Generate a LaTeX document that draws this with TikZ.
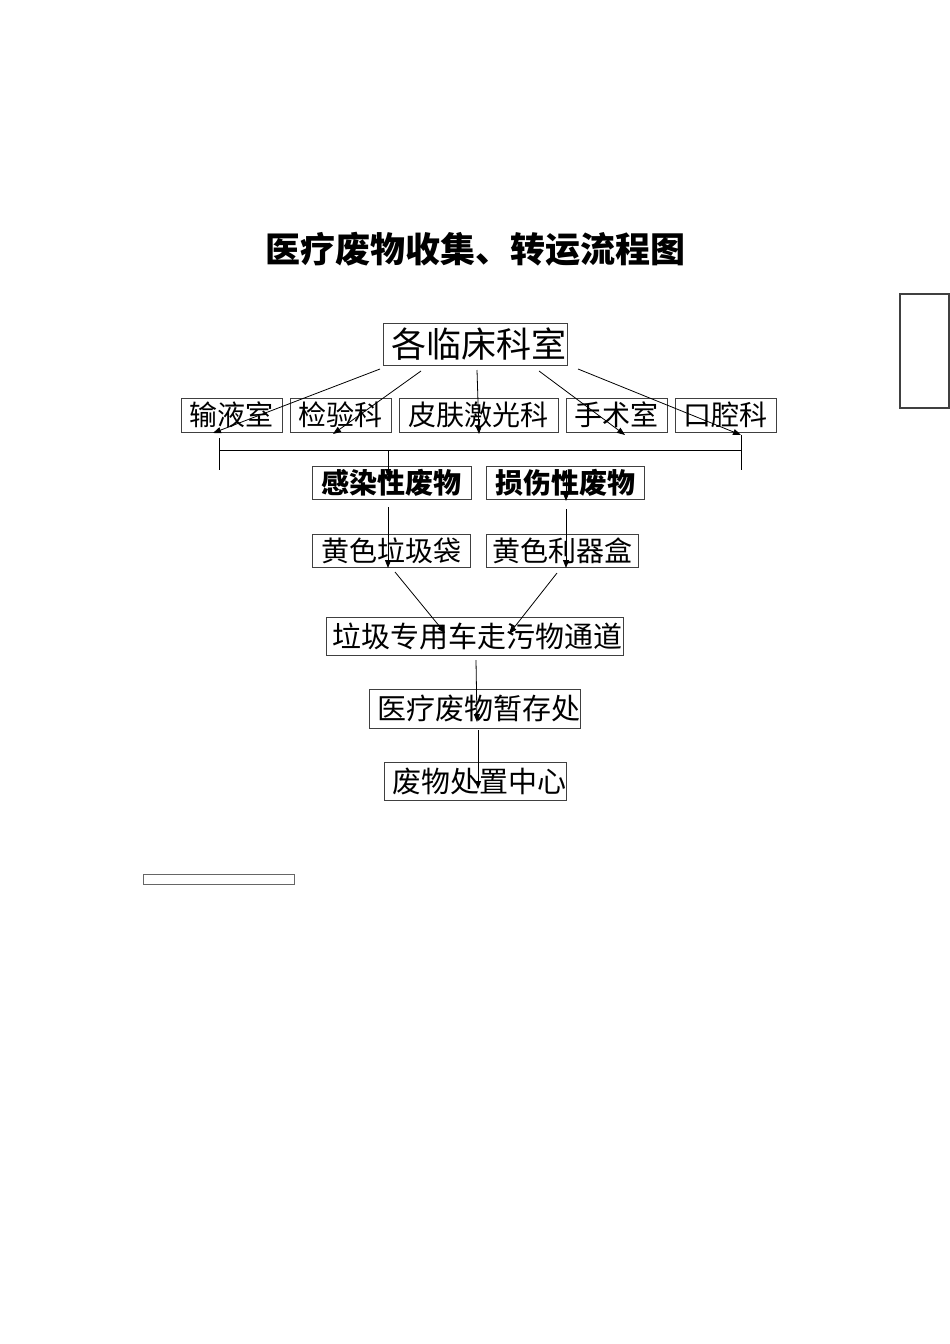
\documentclass[tikz,border=0pt]{standalone}
\usepackage{fontspec}
\newfontfamily\cjk{Noto Sans CJK SC}
\usetikzlibrary{arrows.meta}
\tikzset{
  box/.style={draw=black!75, line width=0.9pt, inner sep=0pt, align=center, font=\cjk\fontsize{28}{30}\selectfont},
  boldbox/.style={box, font=\cjk\bfseries\fontsize{28}{30}\selectfont},
  bigbox/.style={box, font=\cjk\fontsize{35}{38}\selectfont},
  midbox/.style={box, font=\cjk\fontsize{29}{31}\selectfont},
  arr/.style={black, line width=0.8pt, -{Triangle[length=8pt,width=6pt]}},
  ln/.style={black, line width=0.8pt},
}
\begin{document}
\begin{tikzpicture}[x=1pt,y=-1pt]
\useasboundingbox[fill=white] (0,0) rectangle (950,1344);
% title
\node[font=\cjk\bfseries\fontsize{35}{38}\selectfont] (title) at (475,249) {医疗废物收集、转运流程图};
% top box
\node[bigbox, minimum width=184pt, minimum height=42pt, text width=184pt] (top) at (475,344) {\hspace*{8pt}各临床科室\hfill};
% departments
\node[box, minimum width=101pt, minimum height=34pt] (d1) at (231.5,415) {输液室};
\node[box, minimum width=101pt, minimum height=34pt] (d2) at (340.5,415) {检验科};
\node[box, minimum width=159pt, minimum height=34pt] (d3) at (478.5,415) {皮肤激光科};
\node[box, minimum width=101pt, minimum height=34pt] (d4) at (616.5,415) {手术室};
\node[box, minimum width=101pt, minimum height=34pt] (d5) at (725.5,415) {口腔科};
% waste types
\node[boldbox, minimum width=159pt, minimum height=33pt] (w1) at (391.5,482.5) {感染性废物};
\node[boldbox, minimum width=158pt, minimum height=33pt] (w2) at (565,482.5) {损伤性废物};
% containers
\node[box, minimum width=158pt, minimum height=33pt] (c1) at (391,550.5) {黄色垃圾袋};
\node[box, minimum width=152pt, minimum height=33pt] (c2) at (562,550.5) {黄色利器盒};
% lower chain
\node[midbox, minimum width=297pt, minimum height=38pt] (car) at (474.5,636) {\hspace*{6pt}垃圾专用车走污物通道};
\node[midbox, minimum width=211pt, minimum height=39pt] (store) at (474.5,708.5) {\hspace*{8pt}医疗废物暂存处};
\node[midbox, minimum width=182pt, minimum height=38pt] (center) at (475,781) {\hspace*{8pt}废物处置中心};
% side and bottom rectangles
\draw[draw=black!75, line width=1.2pt] (900,294) rectangle (949,408);
\draw[draw=black!60, line width=0.9pt] (143,874) rectangle (294,884);
% coordinates for connectors
\coordinate (s1) at (380,369); \coordinate (e1) at (213,433);
\coordinate (s2) at (421,371); \coordinate (e2) at (333,434);
\coordinate (s3) at (477,370); \coordinate (e3) at (479,434);
\coordinate (s4) at (539,371); \coordinate (e4) at (625,435);
\coordinate (s5) at (578,369); \coordinate (e5) at (741,435);
\draw[arr] (s1) -- (e1);
\draw[arr] (s2) -- (e2);
\draw[arr] (s3) -- (e3);
\draw[arr] (s4) -- (e4);
\draw[arr] (s5) -- (e5);
% bracket
\coordinate (bl) at (219,450); \coordinate (br) at (741,450);
\coordinate (blt) at (219,438); \coordinate (blb) at (219,470);
\coordinate (brb) at (741,470);
\coordinate (bm) at (388,450);
\draw[ln] (bl) -- (br);
\draw[ln] (blt) -- (blb);
\draw[ln] (e5) -- (brb);
\coordinate (w1t) at (388,477);
\draw[arr] (bm) -- (w1t);
\coordinate (w2s) at (566,470); \coordinate (w2e) at (566,501);
\draw[arr] (w2s) -- (w2e);
% waste to containers
\coordinate (w1s) at (388,507); \coordinate (c1e) at (388,568);
\coordinate (w2b) at (566,509); \coordinate (c2e) at (566,568);
\draw[arr] (w1s) -- (c1e);
\draw[arr] (w2b) -- (c2e);
% containers to car
\coordinate (c1s) at (395,572); \coordinate (k1) at (445,633);
\coordinate (c2s) at (557,573); \coordinate (k2) at (509,634);
\draw[arr] (c1s) -- (k1);
\draw[arr] (c2s) -- (k2);
% chain
\coordinate (cars) at (476,660); \coordinate (ste) at (477,722);
\coordinate (sts) at (478,730); \coordinate (cte) at (478,789);
\draw[arr] (cars) -- (ste);
\draw[arr] (sts) -- (cte);
\end{tikzpicture}
\end{document}
